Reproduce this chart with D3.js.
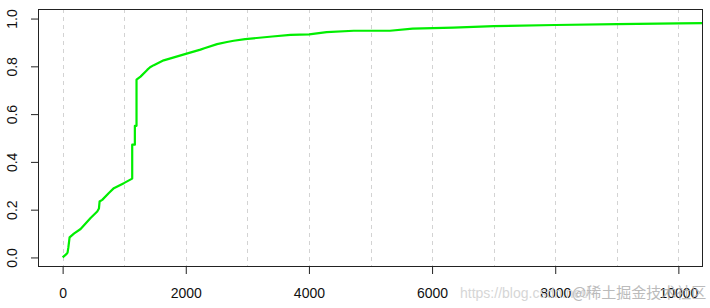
<!DOCTYPE html>
<html>
<head>
<meta charset="utf-8">
<script src="https://cdn.jsdelivr.net/npm/d3@7"></script>
<style>
  html, body { margin: 0; padding: 0; background: #fff; }
  svg { display: block; font-family: "Liberation Sans", Arial, sans-serif; }
</style>
</head>
<body>
<svg id="chart" width="710" height="308"></svg>
<script>
// ---- data ----
const xValues = [0, 65, 80, 92, 113, 183, 292, 454, 562, 590, 600, 643, 751, 832, 994, 1130,
  1130, 1173, 1173, 1200, 1200, 1265, 1373, 1420, 1481, 1641, 1697, 2000, 2238, 2302, 2508,
  2670, 2778, 2964, 3405, 3700, 4005, 4287, 4728, 5316, 5684, 6345, 7000, 8000, 9000, 10000, 10400, 10600];
const probValues = [0, 0.015, 0.02, 0.04, 0.084, 0.10, 0.119, 0.165, 0.192, 0.205, 0.234, 0.241, 0.27, 0.29, 0.311, 0.33,
  0.472, 0.472, 0.551, 0.551, 0.744, 0.757, 0.785, 0.796, 0.805, 0.825, 0.829, 0.852, 0.870, 0.876, 0.893,
  0.902, 0.907, 0.914, 0.925, 0.932, 0.934, 0.943, 0.949, 0.949, 0.958, 0.962, 0.968, 0.973, 0.977, 0.980, 0.981, 0.982];
const xTicks = [0, 2000, 4000, 6000, 8000, 10000];
const xGrid = [0, 1000, 2000, 3000, 4000, 5000, 6000, 7000, 8000, 9000, 10000];
const yTicks = [0, 0.2, 0.4, 0.6, 0.8, 1.0];

(function () {
const svg = d3.select("#chart");
const pLeft = 38, pRight = 703, pTop = 9, pBottom = 267;

const x = d3.scaleLinear().domain([-400, 10400]).range([pLeft, pRight]);
const y = d3.scaleLinear().domain([-0.04, 1.04]).range([pBottom, pTop]);

// clip
svg.append("defs").append("clipPath").attr("id", "plotclip")
  .append("rect").attr("x", pLeft).attr("y", pTop).attr("width", pRight - pLeft).attr("height", pBottom - pTop);

// grid
svg.append("g").selectAll("line").data(xGrid).join("line")
  .attr("x1", d => Math.round(x(d)) + 0.5).attr("x2", d => Math.round(x(d)) + 0.5)
  .attr("y1", pTop).attr("y2", pBottom)
  .attr("stroke", "#d3d3d3").attr("stroke-width", 1).attr("stroke-dasharray", "4,4");

// line
const pts = xValues.map((v, i) => [v, probValues[i]]);
svg.append("path").datum(pts)
  .attr("clip-path", "url(#plotclip)")
  .attr("fill", "none").attr("stroke", "#00ee00").attr("stroke-width", 2.2)
  .attr("stroke-linejoin", "round")
  .attr("d", d3.line().x(d => x(d[0])).y(d => y(d[1])));

// box
svg.append("rect").attr("x", pLeft + 0.5).attr("y", pTop + 0.5)
  .attr("width", pRight - pLeft - 1).attr("height", pBottom - pTop - 1)
  .attr("fill", "none").attr("stroke", "#222").attr("stroke-width", 1);

// x axis
const xAxis = d3.axisBottom(x).tickValues(xTicks).tickSize(7).tickPadding(14).tickFormat(d3.format("d"));
const gx = svg.append("g").attr("transform", `translate(0,${pBottom})`).call(xAxis);
gx.select(".domain").remove();
gx.selectAll(".tick line").attr("stroke", "#222");
gx.selectAll(".tick text").attr("fill", "#111").style("font-size", "14px")
  .style("font-family", '"Liberation Sans", Arial, sans-serif');

// y axis
const yAxis = d3.axisLeft(y).tickValues(yTicks).tickSize(7).tickFormat(d3.format(".1f"));
const gy = svg.append("g").attr("transform", `translate(${pLeft},0)`).call(yAxis);
gy.select(".domain").remove();
gy.selectAll(".tick line").attr("stroke", "#222");
gy.selectAll(".tick text")
  .attr("x", null).attr("dy", null)
  .attr("transform", "translate(-21,0) rotate(-90)")
  .attr("text-anchor", "middle").attr("fill", "#111")
  .style("font-size", "14px")
  .style("font-family", '"Liberation Sans", Arial, sans-serif');

// watermark
svg.append("text").attr("x", 460).attr("y", 298)
  .attr("fill", "#d6d6d6").style("font-size", "14px")
  .text("https://blog.csdn.net/");
svg.append("text").attr("x", 572).attr("y", 298)
  .attr("fill", "#b0b0b0").attr("opacity", 0.85)
  .style("font-size", "15px")
  .style("font-family", '"Noto Sans CJK SC", sans-serif')
  .text("@稀土掘金技术社区");
})();
</script>
</body>
</html>
